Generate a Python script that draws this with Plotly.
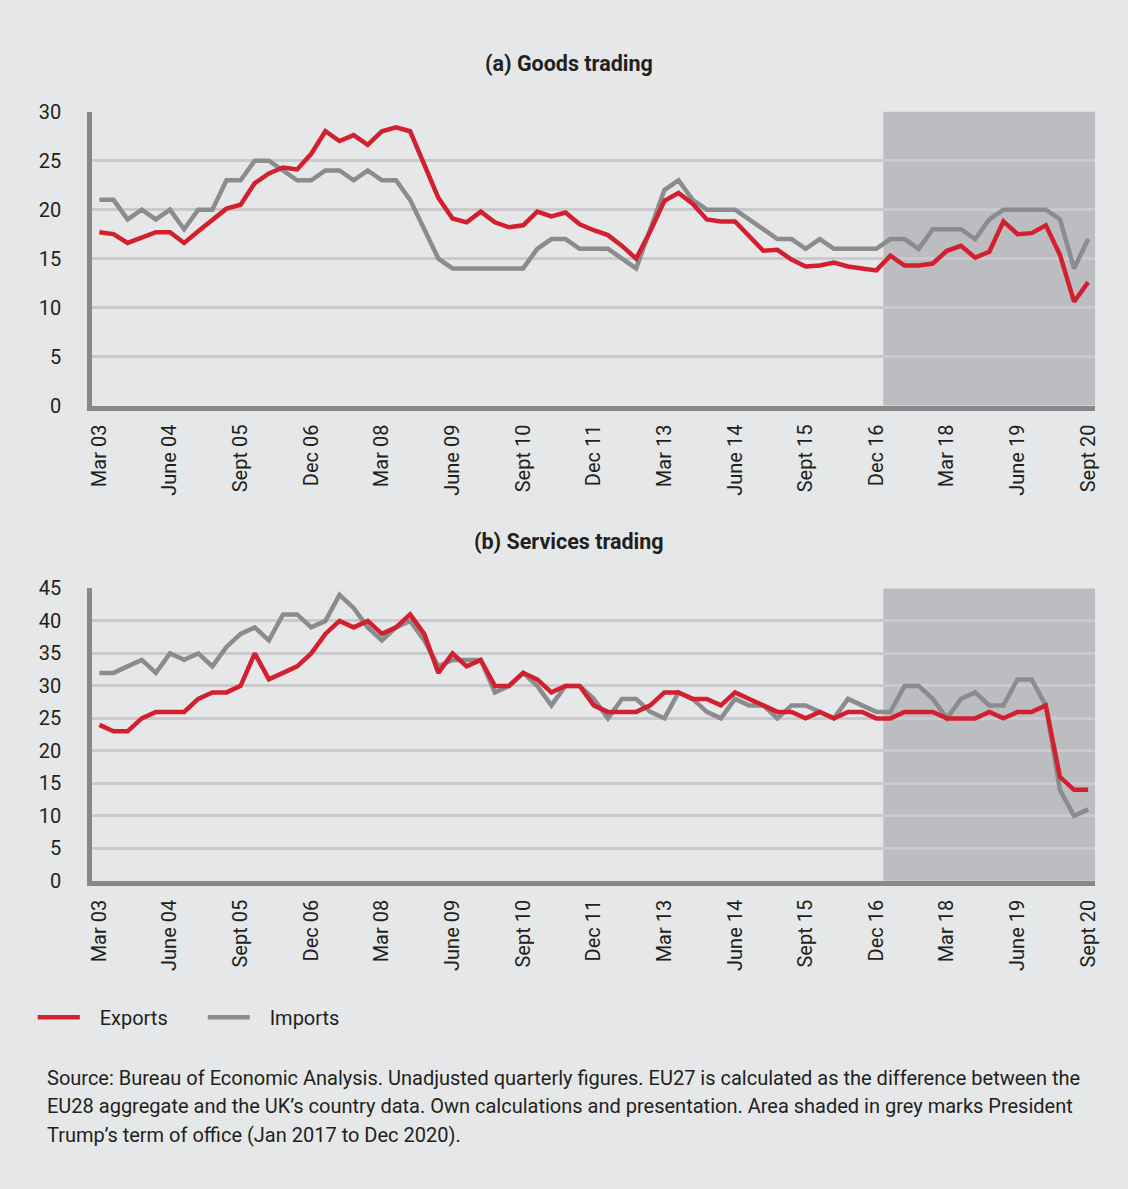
import plotly.graph_objects as go

# ---- data ----
quarters = [f"{y} Q{q}" for y in range(2003, 2021) for q in range(1, 5)][:71]
tick_labels = ["Mar 03", "June 04", "Sept 05", "Dec 06", "Mar 08", "June 09", "Sept 10",
               "Dec 11", "Mar 13", "June 14", "Sept 15", "Dec 16", "Mar 18", "June 19", "Sept 20"]
tick_quarters = quarters[::5]

goods_exports = [17.7, 17.5, 16.6, 17.2, 17.7, 17.7, 16.6, 17.8, 18.9, 20.1,
                 20.5, 22.7, 23.7, 24.3, 24.1, 25.7, 28.0, 27.0, 27.6, 26.6,
                 28.0, 28.4, 28.0, 24.5, 21.2, 19.1, 18.7, 19.8, 18.7, 18.2,
                 18.4, 19.8, 19.3, 19.7, 18.5, 17.9, 17.4, 16.3, 15.0, 17.8,
                 20.9, 21.7, 20.6, 19.0, 18.8, 18.8, 17.3, 15.8, 15.9, 14.9,
                 14.2, 14.3, 14.6, 14.2, 14.0, 13.8, 15.3, 14.3, 14.3, 14.5,
                 15.8, 16.3, 15.1, 15.7, 18.8, 17.5, 17.6, 18.4, 15.4, 10.6,
                 12.6]
goods_imports = [21, 21, 19, 20, 19, 20, 18, 20, 20, 23,
                 23, 25, 25, 24, 23, 23, 24, 24, 23, 24,
                 23, 23, 21, 18, 15, 14, 14, 14, 14, 14,
                 14, 16, 17, 17, 16, 16, 16, 15, 14, 18,
                 22, 23, 21, 20, 20, 20, 19, 18, 17, 17,
                 16, 17, 16, 16, 16, 16, 17, 17, 16, 18,
                 18, 18, 17, 19, 20, 20, 20, 20, 19, 14,
                 17]
services_exports = [24, 23, 23, 25, 26, 26, 26, 28, 29, 29,
                    30, 35, 31, 32, 33, 35, 38, 40, 39, 40,
                    38, 39, 41, 38, 32, 35, 33, 34, 30, 30,
                    32, 31, 29, 30, 30, 27, 26, 26, 26, 27,
                    29, 29, 28, 28, 27, 29, 28, 27, 26, 26,
                    25, 26, 25, 26, 26, 25, 25, 26, 26, 26,
                    25, 25, 25, 26, 25, 26, 26, 27, 16, 14,
                    14]
services_imports = [32, 32, 33, 34, 32, 35, 34, 35, 33, 36,
                    38, 39, 37, 41, 41, 39, 40, 44, 42, 39,
                    37, 39, 40, 37, 33, 34, 34, 34, 29, 30,
                    32, 30, 27, 30, 30, 28, 25, 28, 28, 26,
                    25, 29, 28, 26, 25, 28, 27, 27, 25, 27,
                    27, 26, 25, 28, 27, 26, 26, 30, 30, 28,
                    25, 28, 29, 27, 27, 31, 31, 27, 14, 10,
                    11]

source_lines = [
    "Source: Bureau of Economic Analysis. Unadjusted quarterly figures. EU27 is calculated as the difference between the",
    "EU28 aggregate and the UK’s country data. Own calculations and presentation. Area shaded in grey marks President",
    "Trump’s term of office (Jan 2017 to Dec 2020).",
]

# ---- style ----
W, H = 1128, 1189
FONT = "Roboto, Liberation Sans, sans-serif"
TXT = "#231f20"
BG = "#e6e7e8"
SHADE = "#bcbdc0"
GRID = "#c9cacc"
AXIS = "#87888a"
RED = "#d3202f"
GREY = "#8b8c8e"
PAD = "\u00a0\u00a0\u00a0"


def px_x(v):
    return v / W


def px_y(v):
    return 1 - v / H


fig = go.Figure()
fig.add_trace(go.Scatter(x=quarters, y=goods_imports, mode="lines", name=PAD + "Imports",
                         line=dict(color=GREY, width=4.5), xaxis="x", yaxis="y", legendrank=2))
fig.add_trace(go.Scatter(x=quarters, y=goods_exports, mode="lines", name=PAD + "Exports",
                         line=dict(color=RED, width=4.5), xaxis="x", yaxis="y", legendrank=1))
fig.add_trace(go.Scatter(x=quarters, y=services_imports, mode="lines", name="Imports",
                         line=dict(color=GREY, width=4.5), xaxis="x2", yaxis="y2", showlegend=False))
fig.add_trace(go.Scatter(x=quarters, y=services_exports, mode="lines", name="Exports",
                         line=dict(color=RED, width=4.5), xaxis="x2", yaxis="y2", showlegend=False))

xdom = [px_x(88), px_x(1099)]
xcommon = dict(type="category", range=[-0.5, 70.5], domain=xdom, showgrid=False,
               showline=True, linecolor=AXIS, linewidth=5, ticks="", tickangle=-90,
               tickmode="array", tickvals=tick_quarters, ticktext=tick_labels,
               tickfont=dict(family=FONT, size=20, color=TXT), ticklabelstandoff=6,
               fixedrange=True)
ycommon = dict(showgrid=True, gridcolor=GRID, gridwidth=2.5, zeroline=False,
               showline=True, linecolor=AXIS, linewidth=5, ticks="",
               tickfont=dict(family=FONT, size=20, color=TXT), ticklabelstandoff=22,
               fixedrange=True)

fig.update_layout(
    autosize=True,
    margin=dict(l=0, r=0, t=0, b=0),
    paper_bgcolor=BG,
    plot_bgcolor="rgba(0,0,0,0)",
    xaxis=dict(**xcommon, anchor="y"),
    yaxis=dict(**ycommon, domain=[px_y(401.7), px_y(101.7)], range=[0, 30],
               tickvals=[0, 5, 10, 15, 20, 25, 30], anchor="x"),
    xaxis2=dict(**xcommon, anchor="y2"),
    yaxis2=dict(**ycommon, domain=[px_y(886.7), px_y(588.3)], range=[0, 45],
                tickvals=[0, 5, 10, 15, 20, 25, 30, 35, 40, 45], anchor="x2"),
    showlegend=True,
    legend=dict(orientation="h", x=px_x(28), y=px_y(1026), xanchor="left", yanchor="middle",
                font=dict(family=FONT, size=20, color=TXT), bgcolor="rgba(0,0,0,0)",
                itemwidth=42, entrywidth=113, traceorder="normal"),
    font=dict(family=FONT, color=TXT),
)

# Trump term shading (Jan 2017 onwards)
for xr, yr in (("x", "y domain"), ("x2", "y2 domain")):
    fig.add_shape(type="rect", xref=xr, yref=yr, x0=55.5, x1=70.5, y0=0, y1=1,
                  fillcolor=SHADE, line=dict(width=0), layer="below")

fig.add_annotation(text="<b>(a) Goods trading</b>", xref="paper", yref="paper",
                   x=px_x(569), y=px_y(53), xanchor="center", yanchor="middle",
                   showarrow=False, font=dict(family=FONT, size=21.5, color=TXT))
fig.add_annotation(text="<b>(b) Services trading</b>", xref="paper", yref="paper",
                   x=px_x(569), y=px_y(540), xanchor="center", yanchor="middle",
                   showarrow=False, font=dict(family=FONT, size=21.5, color=TXT))

for i, line in enumerate(source_lines):
    fig.add_annotation(text=line, xref="paper", yref="paper", x=px_x(40), y=px_y(1088 + 29 * i),
                       xanchor="left", yanchor="middle", align="left", showarrow=False,
                       font=dict(family=FONT, size=20, color=TXT))

fig.write_html("out.html", default_width="100vw", default_height="100vh",
               config={"displayModeBar": False, "responsive": True},
               post_script="document.body.style.margin='0';document.body.style.overflow='hidden';"
                           "document.body.style.background='#e6e7e8';")
